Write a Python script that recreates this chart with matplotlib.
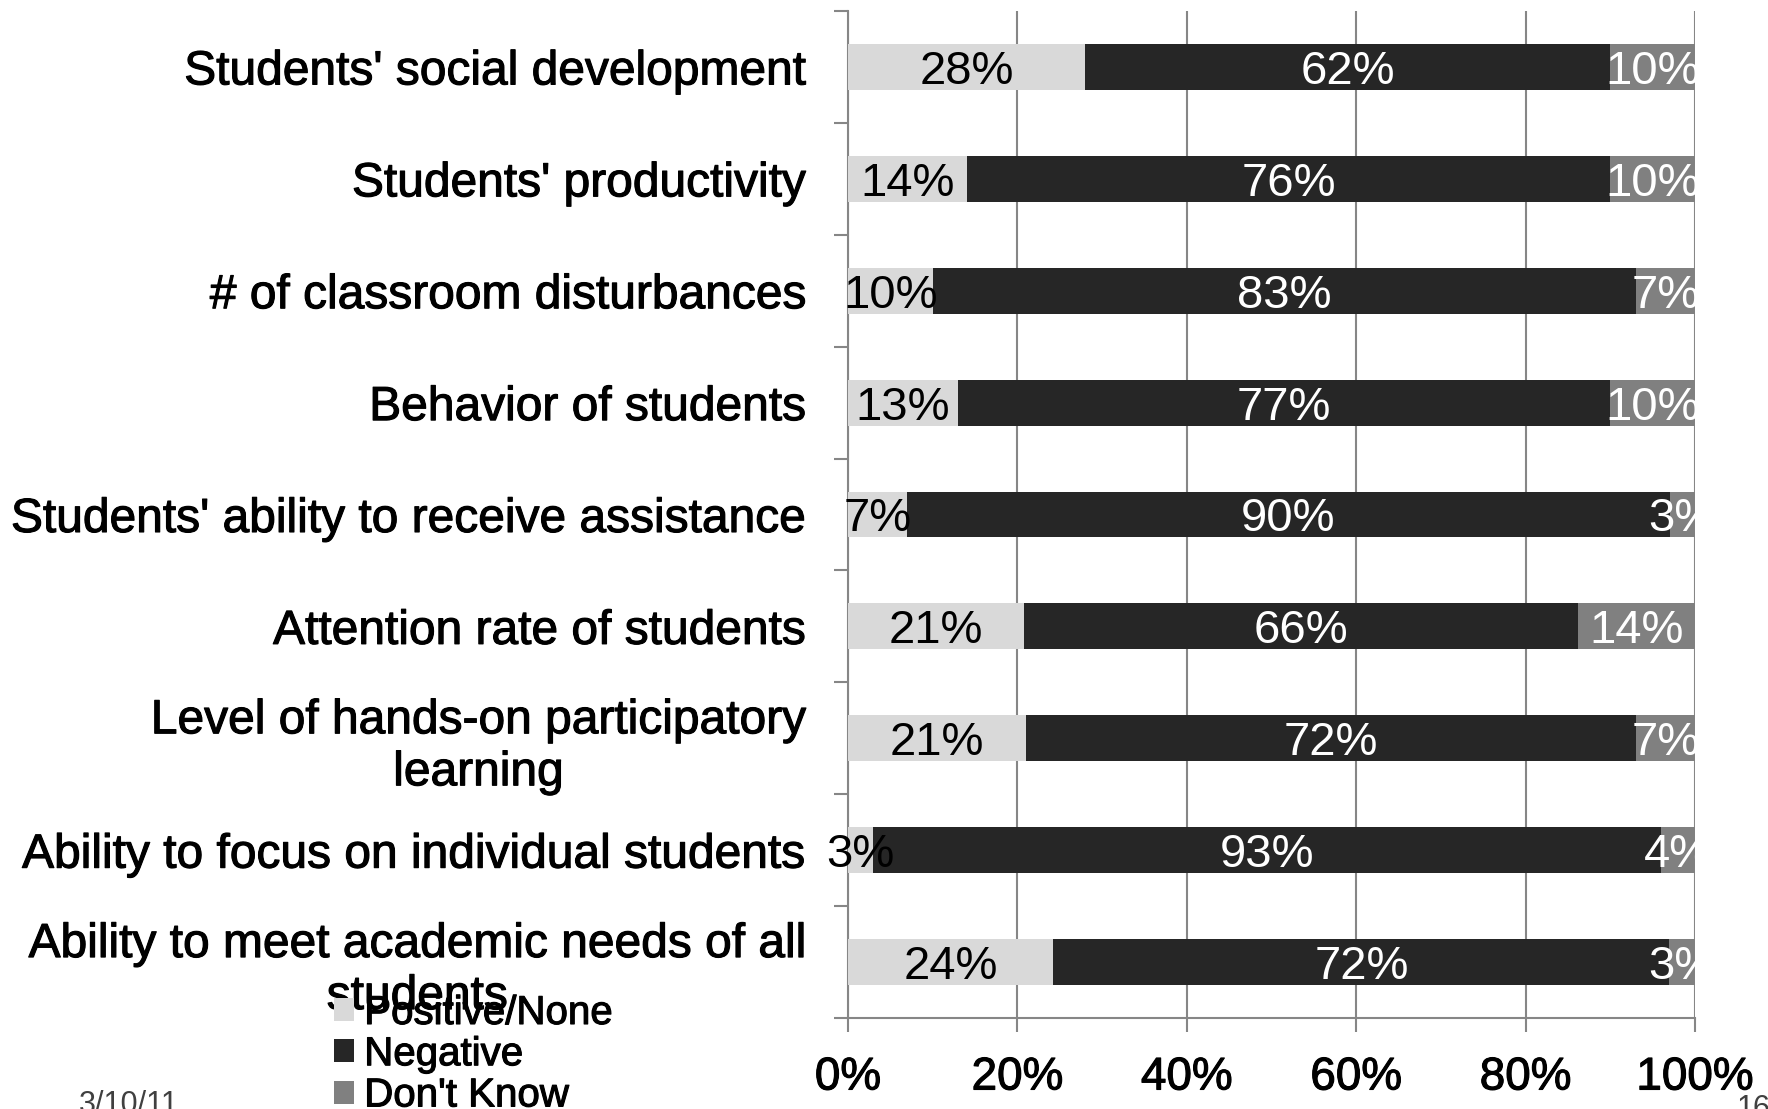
import matplotlib
matplotlib.use("Agg")
import matplotlib.pyplot as plt
import matplotlib.patheffects as pe
from matplotlib.patches import Patch
import numpy as np

plt.rcParams['font.family'] = ['Liberation Sans', 'DejaVu Sans']

categories = [
    "Students' social development",
    "Students' productivity",
    "# of classroom disturbances",
    "Behavior of students",
    "Students' ability to receive assistance",
    "Attention rate of students",
    "Level of hands-on participatory\nlearning",
    "Ability to focus on individual students",
    "Ability to meet academic needs of all\nstudents",
]
positive = [28, 14, 10, 13, 7, 21, 21, 3, 24]
negative = [62, 76, 83, 77, 90, 66, 72, 93, 72]
dont_know = [10, 10, 7, 10, 3, 14, 7, 4, 3]
series_names = ["Positive/None", "Negative", "Don't Know"]
colors = ["#d9d9d9", "#262626", "#808080"]
text_colors = ["black", "white", "white"]
xticks = [0, 20, 40, 60, 80, 100]

grid_c = "#868686"
heavy = [pe.withStroke(linewidth=0.8, foreground="black")]

fig = plt.figure(figsize=(17.68, 11.09), dpi=100)
ax = fig.add_axes([848 / 1768, 1 - 1018 / 1109, (1695 - 848) / 1768, (1018 - 11) / 1109])

raw = np.array([positive, negative, dont_know], dtype=float)
share = raw / raw.sum(axis=0) * 100  # 100% stacked
y = np.arange(len(categories))
left = np.zeros(len(categories))
for i in range(3):
    ax.barh(y, share[i], left=left, height=0.41, color=colors[i], zorder=3)
    for yy, l, w, v in zip(y, left, share[i], raw[i]):
        ax.text(l + w / 2, yy, "%d%%" % v, ha="center", va="center_baseline",
                color=text_colors[i], fontsize=34, zorder=4)
    left += share[i]

ax.set_xlim(0, 100)
ax.set_ylim(len(categories) - 0.5, -0.5)
ax.set_xticks(xticks)
ax.set_xticklabels(["%d%%" % t for t in xticks], fontsize=33)
ax.set_yticks(y)
ax.set_yticklabels(categories, fontsize=34.5, ha="right", multialignment="center")
ax.set_yticks(np.arange(len(categories) + 1) - 0.5, minor=True)
for t in ax.get_xticklabels() + ax.get_yticklabels():
    t.set_path_effects(heavy)

ax.tick_params(axis="y", which="major", length=0, pad=30)
ax.tick_params(axis="y", which="minor", length=10, width=1.5, color=grid_c, direction="out")
ax.tick_params(axis="x", which="major", length=10, width=1.5, color=grid_c, pad=17)

ax.grid(axis="x", color=grid_c, linewidth=1.5, zorder=0)
ax.set_axisbelow(True)
for s in ["top", "right"]:
    ax.spines[s].set_visible(False)
for s in ["left", "bottom"]:
    ax.spines[s].set_color(grid_c)
    ax.spines[s].set_linewidth(1.5)

handles = [Patch(facecolor=c, edgecolor="none") for c in colors]
leg = fig.legend(handles, series_names, loc="upper left", bbox_to_anchor=(334 / 1768, 1 - 994 / 1109),
                 frameon=False, fontsize=29, handlelength=0.5, handleheight=0.5,
                 handletextpad=0.25, labelspacing=0.08, borderpad=0, borderaxespad=0)
for t in leg.get_texts():
    t.set_path_effects(heavy)

fig.text(79 / 1768, 1 - 1090 / 1109, "3/10/11", fontsize=22, color="#404040", va="top", ha="left")
fig.text(1737 / 1768, 1 - 1094 / 1109, "16", fontsize=22, color="#404040", va="top", ha="left")

fig.savefig("out.png", dpi=100)
